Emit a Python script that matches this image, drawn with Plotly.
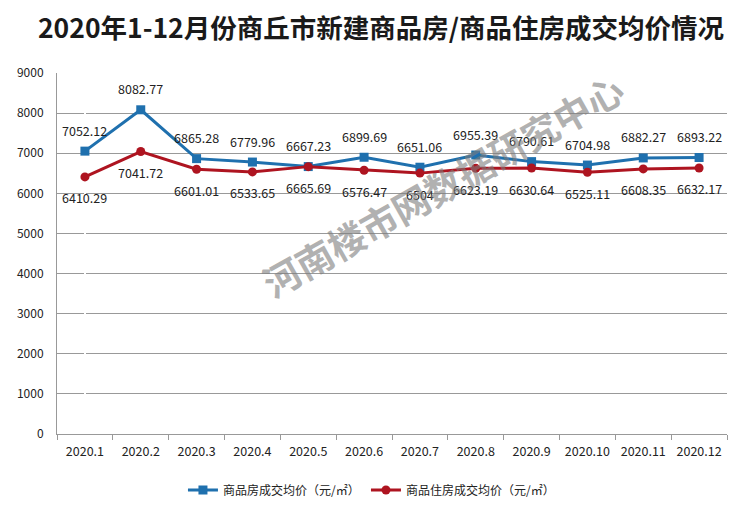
import plotly.graph_objects as go

months = ["2020.1", "2020.2", "2020.3", "2020.4", "2020.5", "2020.6",
          "2020.7", "2020.8", "2020.9", "2020.10", "2020.11", "2020.12"]
commercial = [7052.12, 8082.77, 6865.28, 6779.96, 6667.23, 6899.69,
              6651.06, 6955.39, 6790.61, 6704.98, 6882.27, 6893.22]
residential = [6410.29, 7041.72, 6601.01, 6533.65, 6665.69, 6576.47,
               6504, 6623.19, 6630.64, 6525.11, 6608.35, 6632.17]
y_ticks = [0, 1000, 2000, 3000, 4000, 5000, 6000, 7000, 8000, 9000]

name1 = "商品房成交均价（元/㎡）"
name2 = "商品住房成交均价（元/㎡）"
BLUE = "#1F70AE"
RED = "#AE1420"
FONT = "Noto Sans CJK SC"

idx = list(range(len(months)))

fig = go.Figure()
fig.add_trace(go.Scatter(x=idx, y=commercial, name=name1, mode="lines+markers",
                         line=dict(color=BLUE, width=3),
                         marker=dict(symbol="square", size=9, color=BLUE)))
fig.add_trace(go.Scatter(x=idx, y=residential, name=name2, mode="lines+markers",
                         line=dict(color=RED, width=3),
                         marker=dict(symbol="circle", size=9, color=RED)))

annotations = []
for i, v in zip(idx, commercial):
    annotations.append(dict(x=i, y=v, text=f"{v:g}", showarrow=False, yshift=21,
                            font=dict(size=12.5, color="#222", family=FONT)))
for i, v in zip(idx, residential):
    annotations.append(dict(x=i, y=v, text=f"{v:g}", showarrow=False, yshift=-21,
                            font=dict(size=12.5, color="#222", family=FONT)))
annotations.append(dict(xref="paper", yref="paper", x=0.575, y=0.69,
                        xanchor="center", yanchor="middle",
                        text="<b>河南楼市网数据研究中心</b>", showarrow=False,
                        textangle=-29.5,
                        font=dict(size=37, color="rgba(125,125,125,0.6)", family=FONT)))

fig.update_layout(
    width=746, height=517,
    margin=dict(l=57, r=19, t=73, b=77),
    paper_bgcolor="white", plot_bgcolor="white",
    title=dict(text="<b>2020年1-12月份商丘市新建商品房/商品住房成交均价情况</b>",
               x=381 / 746, xanchor="center", y=1 - 29 / 517, yanchor="middle",
               font=dict(size=26.5, color="#1a1a1a", family=FONT)),
    font=dict(family=FONT, size=12, color="#222"),
    showlegend=True,
    legend=dict(orientation="h", x=0.188, xanchor="left", y=-0.115, yanchor="top",
                font=dict(size=12, color="#222"), tracegroupgap=0,
                entrywidth=138),
    annotations=annotations,
)
fig.update_xaxes(range=[-0.5, 11.5], tickvals=idx, ticktext=months, showline=True,
                 linecolor="#999", linewidth=1, ticks="", showgrid=False,
                 tickfont=dict(size=12.5, color="#222"), tickangle=0, ticklabelstandoff=6)
# boundary tick marks via minor ticks
fig.update_xaxes(minor=dict(tickvals=[i + 0.5 for i in range(-1, len(months))],
                            ticks="outside", ticklen=5, tickcolor="#999", showgrid=False))
fig.update_yaxes(range=[0, 9000], tickvals=y_ticks, showline=True, linecolor="#999",
                 linewidth=1, showgrid=True, gridcolor="#999", gridwidth=1,
                 zeroline=False, ticks="", ticklabelstandoff=10,
                 tickfont=dict(size=12, color="#222"))

fig.write_html("out.html")
